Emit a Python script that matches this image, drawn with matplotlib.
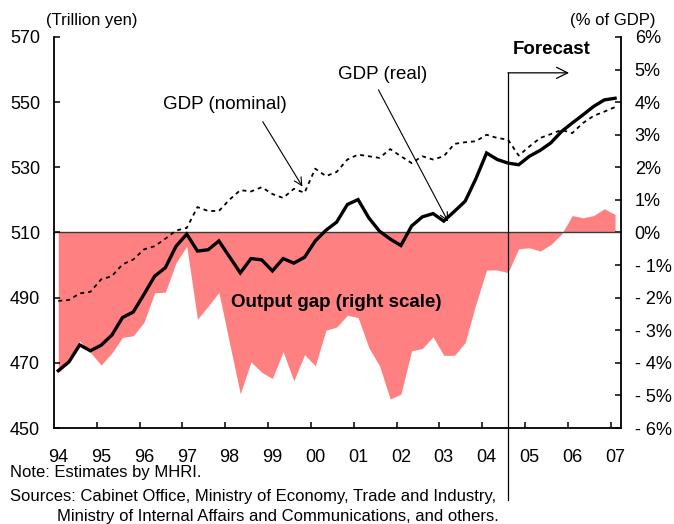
import matplotlib
matplotlib.use('Agg')
import matplotlib.pyplot as plt
import numpy as np

plt.rcParams['font.family'] = ['Liberation Sans', 'DejaVu Sans']

# quarterly data, 94Q1 .. 07Q1
years = ['94', '95', '96', '97', '98', '99', '00', '01', '02', '03', '04', '05', '06', '07']

real = [467.6, 470.3, 475.5, 473.7, 475.4, 478.5, 483.9, 485.6, 491.0, 496.6,
        499.2, 505.8, 509.5, 504.3, 504.7, 507.4, 502.5, 497.6, 502.0, 501.6,
        498.2, 502.0, 500.6, 502.4, 507.4, 510.7, 513.2, 518.6, 520.1, 514.5,
        510.4, 508.0, 506.0, 512.0, 514.8, 515.8, 513.5, 516.5, 519.6, 526.5,
        534.4, 532.4, 531.3, 530.8, 533.4, 535.2, 537.5, 541.0, 543.6, 546.1,
        548.7, 550.7, 551.2]

nominal = [489.0, 489.3, 491.3, 491.8, 495.6, 496.6, 500.2, 501.7, 504.8, 505.8,
           508.1, 510.6, 511.4, 517.8, 516.6, 516.6, 520.1, 523.0, 522.6, 523.9,
           521.8, 520.6, 523.4, 522.2, 529.6, 527.3, 528.6, 532.4, 533.9, 533.4,
           532.9, 535.6, 533.4, 531.3, 533.4, 532.4, 533.4, 537.2, 537.7, 538.0,
           540.0, 539.0, 538.5, 533.6, 536.4, 539.0, 540.2, 541.5, 540.5, 543.6,
           545.8, 547.1, 548.5]

gap = [-4.3, -4.0, -3.33, -3.68, -4.07, -3.7, -3.22, -3.17, -2.76, -1.85,
       -1.83, -0.93, -0.42, -2.66, -2.26, -1.84, -3.4, -4.95, -3.97, -4.29,
       -4.48, -3.66, -4.55, -3.75, -4.09, -3.0, -2.9, -2.54, -2.61, -3.53,
       -4.09, -5.11, -4.96, -3.63, -3.56, -3.2, -3.77, -3.77, -3.38, -2.2,
       -1.15, -1.15, -1.23, -0.5, -0.47, -0.57, -0.37, -0.05, 0.52, 0.45,
       0.52, 0.73, 0.55]

forecast_start = 42  # 04Q3

q = np.arange(len(real))

fig = plt.figure(figsize=(6.74, 5.24), dpi=100)
ax = fig.add_axes([0.0801, 0.1832, 0.8420, 0.7462])
ax2 = ax.twinx()
ax.set_zorder(ax2.get_zorder() + 1)
ax.patch.set_visible(False)

# output gap, right scale
ax2.fill_between(q, gap, 0, color='#FF8080', lw=0)
ax2.axhline(0, color='#3a3a3a', lw=1.0)
ax2.set_ylim(-6, 6)
pct = list(range(-6, 7))
ax2.set_yticks(pct, [f'{v}%' if v >= 0 else f'- {-v}%' for v in pct])

# GDP lines, left scale
ax.plot(q, nominal, color='black', lw=1.3, ls=(0, (2.2, 2.2)))
ax.plot(q, real, color='black', lw=2.4, solid_joinstyle='miter')
ax.set_ylim(450, 570)
ax.set_yticks(range(450, 571, 20))
ax.set_xlim(-0.4, 52.6)
ax.set_xticks(q[::4], years)
ax.set_xticks(np.arange(3.6, 52, 4), minor=True)

for a in (ax, ax2):
    a.spines['top'].set_visible(False)
ax.spines['right'].set_visible(False)
for s in ('left', 'bottom'):
    ax.spines[s].set_linewidth(1.3)
ax2.spines['left'].set_visible(False)
ax2.spines['bottom'].set_visible(False)
ax2.spines['right'].set_linewidth(1.3)

ax.tick_params(axis='y', direction='in', length=4.5, width=1.1, labelsize=13, pad=10)
ax.tick_params(axis='x', which='major', length=0, labelsize=13, pad=15)
ax.tick_params(axis='x', which='minor', direction='in', length=4.5, width=1.1)
ax2.tick_params(axis='y', direction='in', length=4.5, width=1.1, labelsize=13, pad=9.5)

# forecast marker
ax.plot([forecast_start, forecast_start], [428, 559], color='black', lw=0.9,
        clip_on=False)
ax.annotate('', xy=(forecast_start + 5.7, 559), xytext=(forecast_start, 559),
            arrowprops=dict(arrowstyle='->', lw=0.9, mutation_scale=20,
                            shrinkA=0, shrinkB=0))
ax.text(46.1, 566.3, 'Forecast', ha='center', va='center', fontsize=13.5,
        fontweight='bold')

ax.text(15.6, 549.2, 'GDP (nominal)', ha='center', va='center', fontsize=13.5)
ax.annotate('', xy=(22.8, 524.1), xytext=(19.1, 544),
            arrowprops=dict(arrowstyle='->', lw=0.8, mutation_scale=14,
                            shrinkA=0, shrinkB=0))
ax.text(30.3, 558.4, 'GDP (real)', ha='center', va='center', fontsize=13.5)
ax.annotate('', xy=(36.4, 513.4), xytext=(29.9, 553.8),
            arrowprops=dict(arrowstyle='->', lw=0.8, mutation_scale=14,
                            shrinkA=0, shrinkB=0))
ax.text(26, 488.6, 'Output gap (right scale)', ha='center', va='center',
        fontsize=13.5, fontweight='bold')

fig.text(46 / 674, 1 - 21 / 524, '(Trillion yen)', ha='left', va='center', fontsize=12)
fig.text(655 / 674, 1 - 21 / 524, '(% of GDP)', ha='right', va='center', fontsize=12)

fig.text(10 / 674, 1 - 472 / 524, 'Note: Estimates by MHRI.', ha='left', va='center',
         fontsize=12)
fig.text(10 / 674, 1 - 496 / 524,
         'Sources: Cabinet Office, Ministry of Economy, Trade and Industry,',
         ha='left', va='center', fontsize=12)
fig.text(57 / 674, 1 - 516 / 524,
         'Ministry of Internal Affairs and Communications, and others.',
         ha='left', va='center', fontsize=12)

fig.savefig('out.png', dpi=100)
